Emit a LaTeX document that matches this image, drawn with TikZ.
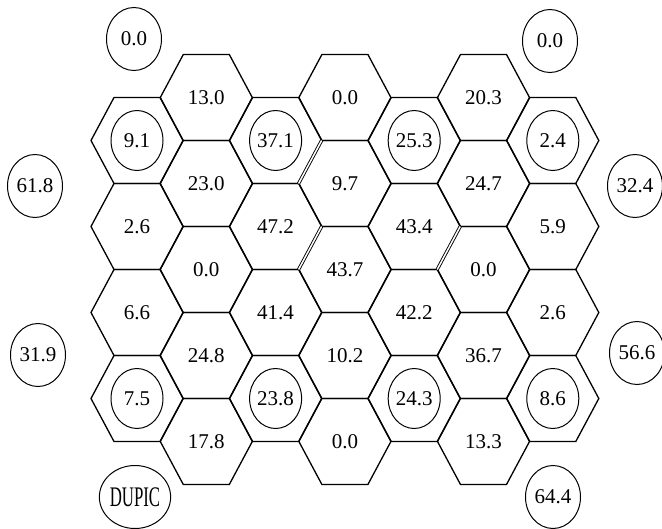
\documentclass[tikz,border=0pt]{standalone}
\usepackage{fontspec}
\setmainfont{Liberation Serif}
\usetikzlibrary{shapes.geometric}

\begin{document}
\begin{tikzpicture}[
		x=1pt, y=-1pt,
		hexcell/.style={inner sep=0pt, font=\fontsize{21}{25}\selectfont},
		ringcell/.style={hexcell, draw, ellipse, line width=1pt, minimum width=52pt, minimum height=60pt},
		rimnode/.style={ringcell, minimum width=55pt, minimum height=63pt},
		hexline/.style={line width=1.3pt, line join=miter},
		dbl/.style={double, double distance=1.5pt, line width=0.9pt}
		]
		\useasboundingbox (0,0) rectangle (662,528);
		
		% ======================
		% Column 1
		% ======================
		\node[ringcell] (a1) at (137,140.5) {9.1};
		\node[hexcell] (a2) at (137,226.5) {2.6};
		\node[hexcell] (a3) at (137,312.5) {6.6};
		\node[ringcell] (a4) at (137,398.5) {7.5};
		
		% ======================
		% Column 2
		% ======================
		\node[hexcell] (b1) at (206.3,97.5) {13.0};
		\node[hexcell] (b2) at (206.3,183.5) {23.0};
		\node[hexcell] (b3) at (206.3,269.5) {0.0};
		\node[hexcell] (b4) at (206.3,355.5) {24.8};
		\node[hexcell] (b5) at (206.3,441.5) {17.8};
		
		% ======================
		% Column 3
		% ======================
		\node[ringcell] (c1) at (275.6,140.5) {37.1};
		\node[hexcell] (c2) at (275.6,226.5) {47.2};
		\node[hexcell] (c3) at (275.6,312.5) {41.4};
		\node[ringcell] (c4) at (275.6,398.5) {23.8};
		
		% ======================
		% Column 4
		% ======================
		\node[hexcell] (d1) at (344.9,97.5) {0.0};
		\node[hexcell] (d2) at (344.9,183.5) {9.7};
		\node[hexcell] (d3) at (344.9,269.5) {43.7};
		\node[hexcell] (d4) at (344.9,355.5) {10.2};
		\node[hexcell] (d5) at (344.9,441.5) {0.0};
		
		% ======================
		% Column 5
		% ======================
		\node[ringcell] (e1) at (414.2,140.5) {25.3};
		\node[hexcell] (e2) at (414.2,226.5) {43.4};
		\node[hexcell] (e3) at (414.2,312.5) {42.2};
		\node[ringcell] (e4) at (414.2,398.5) {24.3};
		
		% ======================
		% Column 6
		% ======================
		\node[hexcell] (f1) at (483.5,97.5) {20.3};
		\node[hexcell] (f2) at (483.5,183.5) {24.7};
		\node[hexcell] (f3) at (483.5,269.5) {0.0};
		\node[hexcell] (f4) at (483.5,355.5) {36.7};
		\node[hexcell] (f5) at (483.5,441.5) {13.3};
		
		% ======================
		% Column 7
		% ======================
		\node[ringcell] (g1) at (552.8,140.5) {2.4};
		\node[hexcell] (g2) at (552.8,226.5) {5.9};
		\node[hexcell] (g3) at (552.8,312.5) {2.6};
		\node[ringcell] (g4) at (552.8,398.5) {8.6};
		
		% ======================
		% HEXAGONS
		% ======================
		\foreach \n in {a1,a2,a3,a4,b1,b2,b3,b4,b5,c1,c2,c3,c4,d1,d2,d3,d4,d5,
			e1,e2,e3,e4,f1,f2,f3,f4,f5,g1,g2,g3,g4}
		\draw[hexline] (\n.center) ++(-46,0) -- ++(23,-43) -- ++(46,0)
		-- ++(23,43) -- ++(-23,43) -- ++(-46,0) -- cycle;
		
		% ======================
		% DOUBLE EDGES
		% ======================
		\draw[dbl] (c1.center) ++(46,0) -- ++(-23,43);
		\draw[dbl] (c2.center) ++(46,0) -- ++(-23,43);
		\draw[dbl] (e2.center) ++(46,0) -- ++(-23,43);
		
		% ======================
		% OUTSIDE
		% ======================
		\node[rimnode] (topleft) at (134,39) {0.0};
		\node[rimnode] (topright) at (550,41) {0.0};
		\node[rimnode] (upleft) at (35,186) {61.8};
		\node[rimnode] (upright) at (635,186) {32.4};
		\node[rimnode] (lowleft) at (38,355) {31.9};
		\node[rimnode] (lowright) at (637,353) {56.6};
		\node[rimnode] (dupic) at (135,497) {\scalebox{0.8}[1.35]{DUPIC}};
		\node[rimnode] (botright) at (553,497) {64.4};
		
	\end{tikzpicture}
\end{document}
